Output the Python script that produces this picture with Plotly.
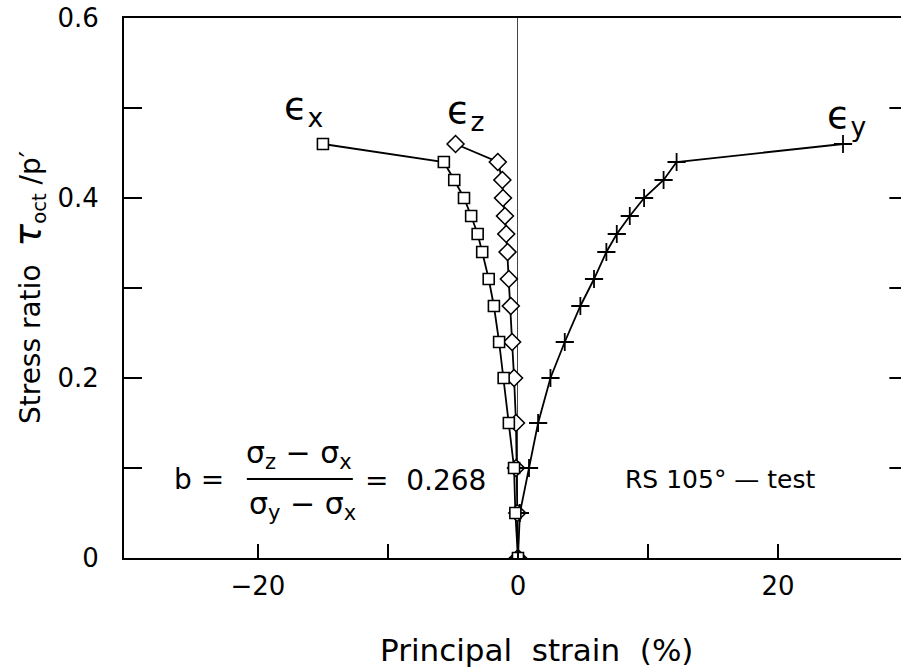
import plotly.graph_objects as go

# Stress ratio levels shared by the three strain components
stress_ratio = [0, 0.05, 0.10, 0.15, 0.20, 0.24, 0.28, 0.31, 0.34, 0.36, 0.38, 0.40, 0.42, 0.44, 0.46]

# Principal strains (%)
strain_x = [0, -0.2, -0.3, -0.7, -1.1, -1.45, -1.85, -2.25, -2.75, -3.1, -3.6, -4.15, -4.9, -5.7, -15.0]
strain_z = [0, -0.05, -0.15, -0.15, -0.3, -0.45, -0.55, -0.7, -0.8, -0.9, -1.0, -1.15, -1.2, -1.55, -4.8]
strain_y = [0, 0.15, 0.85, 1.55, 2.5, 3.6, 4.8, 5.85, 6.8, 7.6, 8.6, 9.7, 11.2, 12.2, 25.0]

# Axis ticks
x_major = [-20, 0, 20]
x_minor = [-10, 10]
y_major = [0, 0.2, 0.4, 0.6]
y_labels = ["0", "0.2", "0.4", "0.6"]
y_minor = [0.1, 0.3, 0.5]

FONT = "DejaVu Sans"
INK = "black"

fig = go.Figure()

fig.add_trace(go.Scatter(
    x=strain_x, y=stress_ratio, mode="lines",
    line=dict(color=INK, width=1.8), showlegend=False,
))
fig.add_trace(go.Scatter(
    x=strain_z, y=stress_ratio, mode="lines+markers",
    line=dict(color=INK, width=1.8),
    marker=dict(symbol="diamond", size=13, color="white", line=dict(width=1.6, color=INK)),
    showlegend=False,
))
fig.add_trace(go.Scatter(
    x=strain_y, y=stress_ratio, mode="lines+markers",
    line=dict(color=INK, width=1.8),
    marker=dict(symbol="cross-thin", size=13, color=INK, line=dict(width=1.8, color=INK)),
    showlegend=False,
))
# Squares on top, filled white so the lines do not show through
fig.add_trace(go.Scatter(
    x=strain_x, y=stress_ratio, mode="markers",
    marker=dict(symbol="square", size=11, color="white", line=dict(width=1.6, color=INK)),
    showlegend=False,
))

# Curve labels
labels = [("x", -18.15, 0.50), ("z", -5.6, 0.495), ("y", 23.6, 0.49)]
for sub, lx, ly in labels:
    fig.add_annotation(
        x=lx, y=ly, xref="x", yref="y", xanchor="left", yanchor="middle",
        text="\u03f5<sub>" + sub + "</sub>", showarrow=False,
        font=dict(family=FONT, size=38, color=INK),
    )

# b-value expression
fig.add_annotation(x=-24.5, y=0.0867, text="b =", showarrow=False,
                   font=dict(family=FONT, size=28, color=INK))
fig.add_annotation(x=-16.85, y=0.091, yanchor="bottom",
                   text="\u03c3<sub>z</sub> \u2212 \u03c3<sub>x</sub>", showarrow=False,
                   font=dict(family=FONT, size=30, color=INK))
fig.add_annotation(x=-16.6, y=0.0822, yanchor="top",
                   text="\u03c3<sub>y</sub> \u2212 \u03c3<sub>x</sub>", showarrow=False,
                   font=dict(family=FONT, size=30, color=INK))
fig.add_shape(type="line", x0=-20.85, x1=-12.7, y0=0.0878, y1=0.0878,
              xref="x", yref="y", line=dict(color=INK, width=2))
fig.add_annotation(x=-7.15, y=0.0856, text="=  0.268", showarrow=False,
                   font=dict(family=FONT, size=28, color=INK))

fig.add_annotation(x=15.6, y=0.0867, text="RS 105\u00b0 \u2014 test", showarrow=False,
                   font=dict(family=FONT, size=25, color=INK))

# Axis titles
fig.add_annotation(
    x=(28 - 124) / 777, y=0.50, xref="paper", yref="paper",
    xanchor="center", yanchor="middle", textangle=-90, showarrow=False,
    text="Stress ratio  <span style='font-size:38px'><i>\u03c4</i></span><sub>oct</sub> /p\u2032",
    font=dict(family=FONT, size=28, color=INK),
)
fig.add_annotation(
    x=1.46, y=(558 - 650) / 540, xref="x", yref="paper",
    xanchor="center", yanchor="middle", showarrow=False,
    text="Principal  strain  (%)",
    font=dict(family=FONT, size=31, color=INK),
)

# Ticks along the right-hand side
for yv in y_minor + [0.2, 0.4]:
    fig.add_shape(type="line", xref="paper", yref="y", x0=0.985, x1=1.0, y0=yv, y1=yv,
                  line=dict(color=INK, width=2))

fig.update_layout(
    width=901, height=670,
    margin=dict(l=124, r=0, t=18, b=112),
    paper_bgcolor="white", plot_bgcolor="white",
    font=dict(family=FONT, size=26, color=INK),
    xaxis=dict(
        range=[-30.3, 29.46], tickmode="array", tickvals=x_major,
        ticks="inside", ticklen=14, tickwidth=1.5, tickcolor=INK,
        minor=dict(tickmode="array", tickvals=x_minor, ticks="inside", ticklen=14,
                   tickwidth=1.5, tickcolor=INK, showgrid=False),
        showline=True, linecolor=INK, linewidth=2, mirror=True,
        showgrid=False, zeroline=True, zerolinecolor="#444", zerolinewidth=1.2,
        ticklabelstandoff=4,
    ),
    yaxis=dict(
        range=[0, 0.6], tickmode="array", tickvals=y_major, ticktext=y_labels,
        ticks="inside", ticklen=18, tickwidth=1.5, tickcolor=INK,
        minor=dict(tickmode="array", tickvals=y_minor, ticks="inside", ticklen=18,
                   tickwidth=1.5, tickcolor=INK, showgrid=False),
        showline=True, linecolor=INK, linewidth=2, mirror=False,
        showgrid=False, zeroline=False,
        ticklabelstandoff=18,
    ),
)

fig.write_html("out.html")
